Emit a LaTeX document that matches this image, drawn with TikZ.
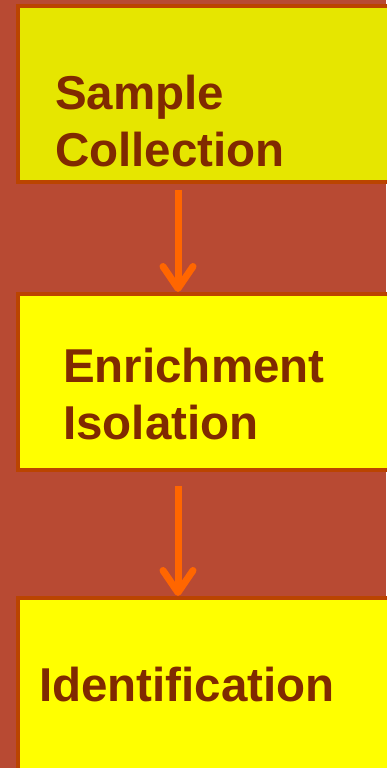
\documentclass[tikz,border=0pt]{standalone}
\usepackage{fontspec}
\setmainfont{Liberation Sans}
\usetikzlibrary{arrows.meta,positioning}
\definecolor{bgred}{RGB}{184,74,51}
\definecolor{edgeorange}{RGB}{187,68,0}
\definecolor{paleyellow}{RGB}{230,230,0}
\definecolor{brightyellow}{RGB}{255,255,0}
\definecolor{textbrown}{RGB}{128,42,0}
\definecolor{arroworange}{RGB}{255,102,0}

\begin{document}
\begin{tikzpicture}[x=1pt, y=1pt,
  stage/.style={draw=edgeorange, line width=4pt, inner sep=0pt, minimum width=374pt, minimum height=176pt},
  lbl/.style={inner sep=0pt, align=left, text=textbrown, anchor=base west,
    font=\fontsize{47.5}{57}\selectfont\bfseries},
  flow/.style={draw=arroworange, line width=7pt, -{Straight Barb[round, length=22pt, width=30pt]}}]
  \useasboundingbox[fill=bgred] (0,0) rectangle (386,768);
  \node[stage, fill=paleyellow] (collect) at (205,674) {};
  \node[stage, fill=brightyellow] (enrich) at (205,386) {};
  \node[stage, fill=brightyellow, minimum height=180pt] (ident) at (205,80) {};
  \node[lbl] (collecttext) at ([shift={(39,-163)}]collect.north west) {Sample\\Collection};
  \node[lbl] (enrichtext) at ([shift={(47,-148)}]enrich.north west) {Enrichment\\Isolation};
  \node[lbl] (identtext) at ([shift={(23,-106)}]ident.north west) {Identification};
  \draw[flow] ([shift={(-27,-6)}]collect.south) -- ([xshift=-27pt]enrich.north);
  \draw[flow] ([shift={(-27,-14)}]enrich.south) -- ([xshift=-27pt]ident.north);
\end{tikzpicture}
\end{document}
